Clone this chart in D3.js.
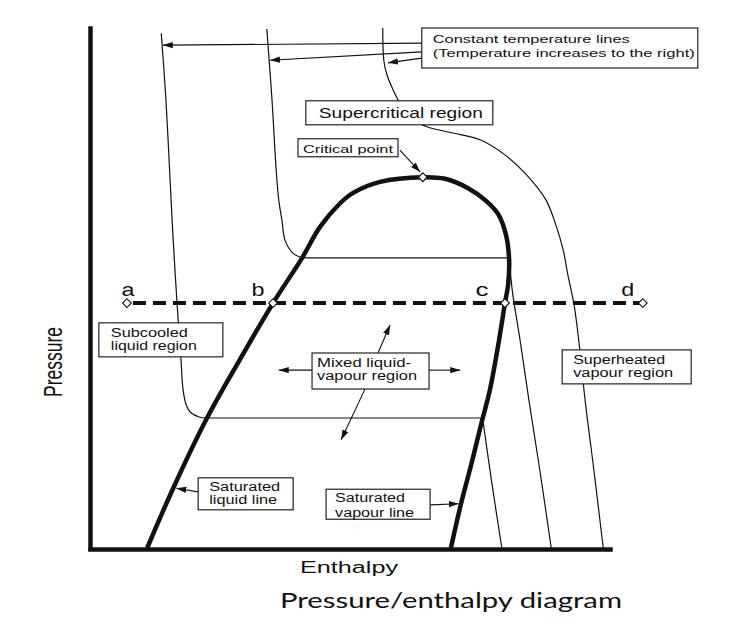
<!DOCTYPE html>
<html>
<head>
<meta charset="utf-8">
<script src="https://cdn.jsdelivr.net/npm/d3@7"></script>
<style>
  html, body { margin: 0; padding: 0; background: #fff; }
  svg { display: block; }
  text { font-family: "Liberation Sans", Arial, sans-serif; fill: #111; }
</style>
</head>
<body>
<svg id="chart" width="746" height="641"></svg>
<script>
// ---------------- DATA (enthalpy h, pressure p; arbitrary units 0-100) ----------------
const satLiquid = [[11.0,0],[16.0,11.5],[22.5,25.0],[28.8,36.2],[35.2,47.1],[40.8,55.8],
                   [44.2,61.7],[48.1,66.3],[50.6,68.3],[55.8,70.4],[64.0,71.3]];
const satVapour = [[64.0,71.3],[68.3,71.0],[72.7,69.2],[76.0,66.9],[78.5,64.2],[80.0,60.2],
                   [80.6,55.4],[80.4,50.6],[79.8,47.1],[78.5,39.0],[76.9,30.4],[75.2,23.7],
                   [73.3,16.0],[71.3,8.3],[69.4,0]];
const criticalPoint = [64.0, 71.3];

// constant temperature lines: liquid branch, then vapour branch (joined by a horizontal)
const iso1Liquid = [[13.7,99.0],[14.6,86.2],[15.4,70.8],[16.0,59.2],[16.7,47.7],[17.5,36.2],
                    [17.9,30.4],[18.5,27.5],[19.4,26.0],[21.0,25.2],[22.5,25.0]];
const iso1Vapour = [[75.5,25.0],[77.2,13.0],[79.2,0]];
const iso2Liquid = [[34.0,99.8],[35.0,86.2],[35.8,72.7],[36.3,66.9],[36.9,63.1],[37.5,59.2],
                    [39.0,56.7],[40.8,55.8]];
const iso2Vapour = [[80.6,55.8],[81.2,49.6],[82.7,40.0],[84.4,28.5],[86.5,15.0],[88.7,0]];
const iso3 = [[56.3,100.0],[56.5,93.8],[57.1,91.0],[58.3,88.1],[59.8,85.2],[62.1,82.5],
              [64.8,81.0],[69.8,79.8],[75.0,78.5],[79.8,75.6],[84.0,71.7],[87.7,66.9],
              [89.6,62.1],[91.0,57.3],[91.9,52.5],[93.1,46.7],[94.2,38.1],[95.2,28.5],
              [96.9,15.0],[98.7,0]];

// constant-pressure process a-b-c-d
const processPressure = 47.1;
const processLabels = ["a", "b", "c", "d"];
const processH = [7.1, 35.2, 79.8, 106.3];

// text
const xAxisLabel = "Enthalpy";
const yAxisLabel = "Pressure";
const titleText = "Pressure/enthalpy diagram";
const boxTexts = {
  isotherms: ["Constant temperature lines", "(Temperature increases to the right)"],
  critical: ["Critical point"],
  supercritical: ["Supercritical region"],
  subcooled: ["Subcooled", "liquid region"],
  mixed: ["Mixed liquid-", "vapour region"],
  superheated: ["Superheated", "vapour region"],
  satLiquid: ["Saturated", "liquid line"],
  satVapour: ["Saturated", "vapour line"]
};

// ---------------- DRAWING ----------------
const svg = d3.select("#chart");
const x = d3.scaleLinear().domain([0, 100]).range([90, 610]);
const y = d3.scaleLinear().domain([0, 100]).range([548, 28]);
const INK = "#111";

const defs = svg.append("defs");
defs.append("marker")
  .attr("id", "arrow").attr("markerUnits", "userSpaceOnUse")
  .attr("viewBox", "0 -4 10 8").attr("refX", 10).attr("refY", 0)
  .attr("markerWidth", 10).attr("markerHeight", 8).attr("orient", "auto")
  .append("path").attr("d", "M0,-3.2L10,0L0,3.2Z").attr("fill", INK);

const smooth = d3.line().x(d => x(d[0])).y(d => y(d[1])).curve(d3.curveCatmullRom.alpha(0.5));
const straight = d3.line().x(d => x(d[0])).y(d => y(d[1]));

// axes (no ticks)
svg.append("g").attr("transform", `translate(${x(0)},0)`)
  .call(d3.axisLeft(y).ticks(0).tickSizeOuter(0))
  .call(g => g.select(".domain").attr("stroke", INK).attr("stroke-width", 4.5).attr("stroke-linecap", "square"));
svg.append("g").attr("transform", `translate(0,${y(0) + 1})`)
  .call(d3.axisBottom(x).ticks(0).tickSizeOuter(0))
  .call(g => g.select(".domain").attr("stroke", INK).attr("stroke-width", 4.5).attr("stroke-linecap", "square"));

// isotherms
const thin = g => g.attr("fill", "none").attr("stroke", INK).attr("stroke-width", 1.2);
[[iso1Liquid, iso1Vapour], [iso2Liquid, iso2Vapour]].forEach(([liq, vap]) => {
  svg.append("path").attr("d", smooth(liq)).call(thin);
  svg.append("path").attr("d", straight([liq[liq.length - 1], vap[0]])).call(thin);
  svg.append("path").attr("d", smooth(vap)).call(thin);
});
svg.append("path").attr("d", smooth(iso3)).call(thin);

// saturation dome
svg.append("path").attr("d", smooth(satLiquid.concat(satVapour.slice(1))))
  .attr("fill", "none").attr("stroke", INK).attr("stroke-width", 4.5).attr("stroke-linejoin", "round");

// constant pressure dashed line
svg.append("path")
  .attr("d", straight([[processH[0], processPressure], [processH[processH.length - 1], processPressure]]))
  .attr("fill", "none").attr("stroke", INK).attr("stroke-width", 4).attr("stroke-dasharray", "13,7")
  .attr("stroke-dashoffset", -6);

// diamond markers
const diamond = d3.symbol(d3.symbolSquare, 38);
const markers = processH.map(h => [h, processPressure]).concat([criticalPoint]);
svg.selectAll("path.pt").data(markers).join("path").attr("class", "pt")
  .attr("d", diamond)
  .attr("transform", d => `translate(${x(d[0])},${y(d[1])}) rotate(45)`)
  .attr("fill", "#fff").attr("stroke", INK).attr("stroke-width", 1.1);

// a b c d labels
const labelOffsets = [[1, -7], [-15, -7], [-23, -7], [-15, -7]];
svg.selectAll("text.pl").data(processLabels).join("text").attr("class", "pl")
  .attr("x", (d, i) => x(processH[i]) + labelOffsets[i][0])
  .attr("y", (d, i) => y(processPressure) + labelOffsets[i][1])
  .attr("text-anchor", "middle").attr("font-size", 18)
  .attr("textLength", 13).attr("lengthAdjust", "spacingAndGlyphs")
  .text(d => d);

// arrows (data units)
const arrows = [
  [[63.8, 97.1], [14.0, 96.7]],
  [[63.8, 95.4], [34.6, 93.8]],
  [[63.8, 94.2], [57.3, 93.3]],
  [[59.6, 76.5], [63.5, 72.3]],
  [[42.7, 34.2], [36.3, 34.2]],
  [[65.2, 34.2], [71.2, 34.2]],
  [[55.4, 37.5], [57.7, 42.9]],
  [[52.9, 30.6], [48.3, 20.8]],
  [[20.8, 10.8], [16.6, 11.5]],
  [[65.4, 8.3], [70.9, 8.5]]
];
arrows.forEach(a => {
  svg.append("path").attr("d", straight(a)).attr("fill", "none")
    .attr("stroke", INK).attr("stroke-width", 1.1).attr("marker-end", "url(#arrow)");
});

// annotation boxes: anchor (top-left) in data units, size & text layout in px
const boxes = [
  { key: "isotherms",     h: 63.8, p: 100.0, w: 276, ht: 40, dx: 11, dy: [15, 29], tl: [197, 262], fs: 11.5 },
  { key: "critical",      h: 40.0, p: 78.7,  w: 100, ht: 18, dx: 5,  dy: [14],     tl: [90],       fs: 11 },
  { key: "supercritical", h: 41.5, p: 86.0,  w: 187, ht: 24, dx: 13, dy: [17],     tl: [164],      fs: 15.5 },
  { key: "subcooled",     h: 1.7,  p: 43.3,  w: 124, ht: 34, dx: 12, dy: [14, 27], tl: [77, 86],   fs: 12 },
  { key: "mixed",         h: 42.7, p: 37.5,  w: 117, ht: 36, dx: 5,  dy: [14, 27], tl: [94, 100],  fs: 12 },
  { key: "superheated",   h: 90.8, p: 38.1,  w: 129, ht: 34, dx: 11, dy: [14, 27], tl: [92, 100],  fs: 12 },
  { key: "satLiquid",     h: 20.8, p: 13.5,  w: 95,  ht: 32, dx: 11, dy: [13, 26], tl: [71, 68],   fs: 12 },
  { key: "satVapour",     h: 45.4, p: 11.3,  w: 104, ht: 30, dx: 9,  dy: [13, 28], tl: [70, 79],   fs: 12 }
];
boxes.forEach(b => {
  const g = svg.append("g").attr("transform", `translate(${x(b.h)},${y(b.p)})`);
  g.append("rect").attr("width", b.w).attr("height", b.ht)
    .attr("fill", "#fff").attr("stroke", "#222").attr("stroke-width", 1.2);
  boxTexts[b.key].forEach((t, i) => {
    g.append("text").attr("x", b.dx).attr("y", b.dy[i]).attr("font-size", b.fs)
      .attr("textLength", b.tl[i]).attr("lengthAdjust", "spacingAndGlyphs").text(t);
  });
});

// axis labels & title
svg.append("text").attr("x", (x.range()[0] + x.range()[1]) / 2 - 1).attr("y", y(0) + 25)
  .attr("text-anchor", "middle").attr("font-size", 16)
  .attr("textLength", 98).attr("lengthAdjust", "spacingAndGlyphs").text(xAxisLabel);
svg.append("text").attr("transform", `translate(${x(0) - 28},${(y.range()[0] + y.range()[1]) / 2 + 74}) rotate(-90)`)
  .attr("text-anchor", "middle").attr("font-size", 25)
  .attr("textLength", 70).attr("lengthAdjust", "spacingAndGlyphs").text(yAxisLabel);
svg.append("text").attr("x", 451).attr("y", y(0) + 60)
  .attr("text-anchor", "middle").attr("font-size", 21)
  .style("font-family", "Lato, 'DejaVu Sans', sans-serif")
  .attr("textLength", 342).attr("lengthAdjust", "spacingAndGlyphs").text(titleText);
</script>
</body>
</html>
